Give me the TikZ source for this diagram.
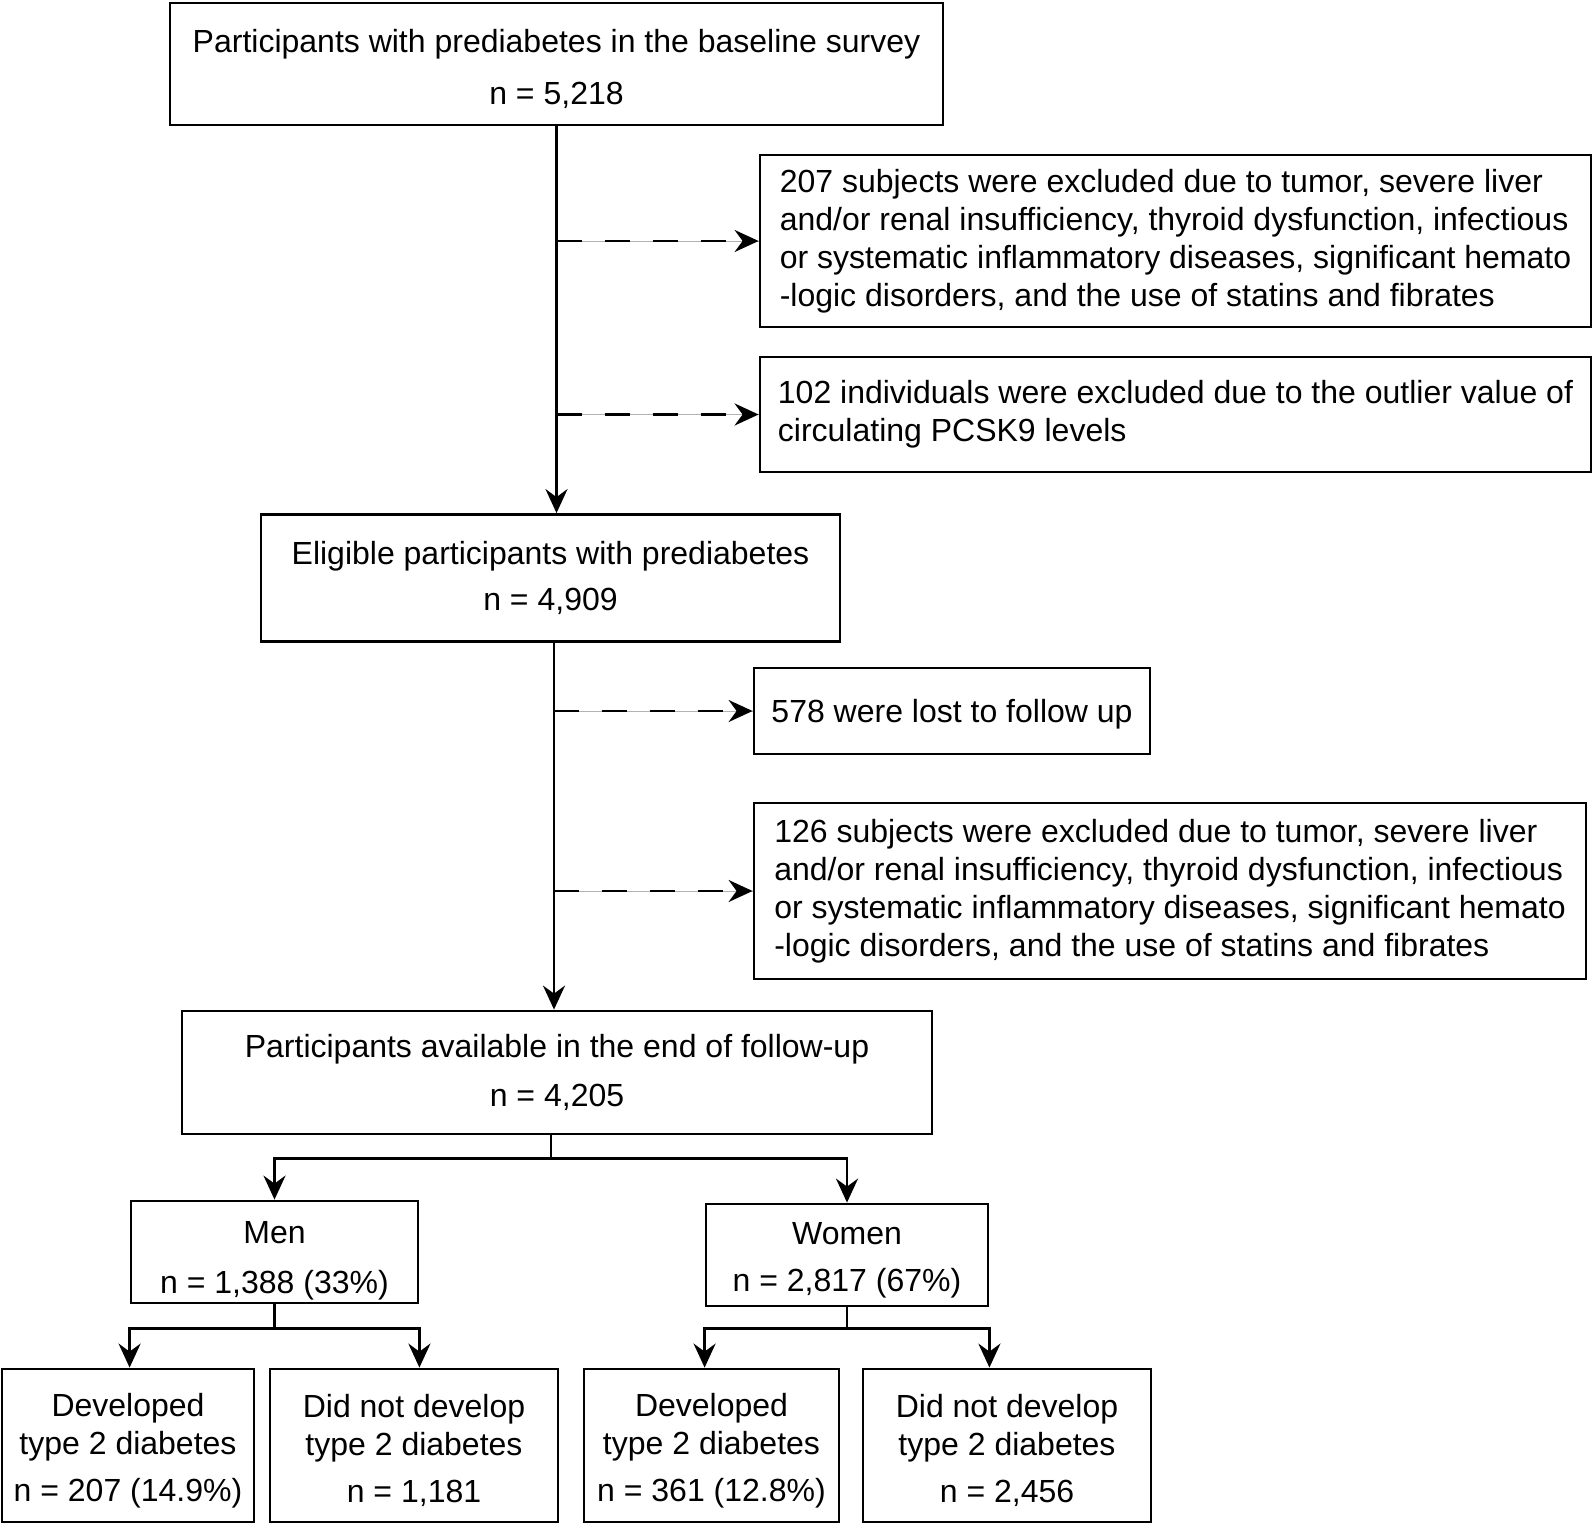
\documentclass[tikz,border=0pt]{standalone}
\usepackage{fontspec}
\setmainfont{Liberation Sans}
\usetikzlibrary{arrows.meta}
\newcommand{\alto}[1]{\rule{0pt}{#1}}

\begin{document}
\begin{tikzpicture}[x=0.5pt, y=-0.5pt,
    caja/.style={draw, line width=1.4pt, align=center, inner sep=0pt, font=\fontsize{16}{19}\selectfont},
    cajaizq/.style={caja, align=left},
    flecha/.style={line width=1.4pt, -{Stealth[length=12pt, width=11pt, inset=4pt]}},
    guion/.style={flecha, dash pattern=on 12.5pt off 11.5pt, preaction={draw, -, solid, line width=0.4pt, gray!60}}]
    \useasboundingbox (0,0) rectangle (1594,1524);

    % Dibuja las cajas del flujo principal
    \node[caja, minimum width=386.5pt, minimum height=61pt] (inicio) at (556.5,64) {\alto{17pt}Participants with prediabetes in the baseline survey\\[7pt]n = 5,218};
    \node[caja, minimum width=289.5pt, minimum height=63.5pt] (elegibles) at (550.5,578) {Eligible participants with prediabetes\\[4pt]n = 4,909};
    \node[caja, minimum width=375pt, minimum height=61.5pt] (final) at (557,1072.5) {Participants available in the end of follow-up\\[5.5pt]n = 4,205};

    % Dibuja las cajas de exclusion
    \node[cajaizq, minimum width=415.5pt, minimum height=86pt] (excl1) at (1175.5,241) {207 subjects were excluded due to tumor, severe liver\\and/or renal insufficiency, thyroid dysfunction, infectious\\or systematic inflammatory diseases, significant hemato\\-logic disorders, and the use of statins and fibrates};
    \node[cajaizq, minimum width=415.5pt, minimum height=57.5pt] (excl2) at (1175.5,414.5) {102 individuals were excluded due to the outlier value of\\circulating PCSK9 levels};
    \node[caja, minimum width=198pt, minimum height=43pt] (perdidos) at (952,711) {\alto{14.5pt}578 were lost to follow up};
    \node[cajaizq, minimum width=416pt, minimum height=88pt] (excl3) at (1170,891) {126 subjects were excluded due to tumor, severe liver\\and/or renal insufficiency, thyroid dysfunction, infectious\\or systematic inflammatory diseases, significant hemato\\-logic disorders, and the use of statins and fibrates};

    % Dibuja las cajas por sexo
    \node[caja, minimum width=143.5pt, minimum height=51pt] (hombres) at (274.5,1252) {\alto{19.5pt}Men\\[6pt]n = 1,388 (33\%)};
    \node[caja, minimum width=141pt, minimum height=51pt] (mujeres) at (847,1255) {\alto{16.5pt}Women\\[4.5pt]n = 2,817 (67\%)};

    % Dibuja las cajas de resultados
    \node[caja, minimum width=126pt, minimum height=76.5pt] (hsi) at (128,1445.5) {\alto{16.5pt}Developed\\type 2 diabetes\\[4.5pt]n = 207 (14.9\%)};
    \node[caja, minimum width=144pt, minimum height=76.5pt] (hno) at (414,1445.5) {\alto{16.5pt}Did not develop\\type 2 diabetes\\[4.5pt]n = 1,181};
    \node[caja, minimum width=127.5pt, minimum height=76.5pt] (msi) at (711.5,1445.5) {\alto{16.5pt}Developed\\type 2 diabetes\\[4.5pt]n = 361 (12.8\%)};
    \node[caja, minimum width=144pt, minimum height=76.5pt] (mno) at (1007,1445.5) {\alto{16.5pt}Did not develop\\type 2 diabetes\\[4.5pt]n = 2,456};

    % Dibuja las flechas principales
    \draw[flecha] (inicio.south) -- (inicio.south |- elegibles.north);
    \draw[guion] (inicio.south |- excl1.west) -- (excl1.west);
    \draw[guion] (inicio.south |- excl2.west) -- (excl2.west);
    \draw[flecha] ([xshift=1.75pt]elegibles.south) -- ([xshift=1.75pt]elegibles.south |- final.north);
    \draw[guion] ([xshift=1.75pt]elegibles.south |- perdidos.west) -- (perdidos.west);
    \draw[guion] ([xshift=1.75pt]elegibles.south |- excl3.west) -- (excl3.west);

    % Dibuja las ramas
    \draw[flecha] ([xshift=-3pt]final.south) -- ++(0,23) -| (hombres.north);
    \draw[flecha] ([xshift=-3pt]final.south) -- ++(0,23) -| (mujeres.north);
    \draw[flecha] (hombres.south) -- ++(0,24) -| (hombres.west |- hsi.north);
    \draw[flecha] (hombres.south) -- ++(0,24) -| (hombres.east |- hno.north);
    \draw[flecha] (mujeres.south) -- ++(0,21) -| (mujeres.west |- msi.north);
    \draw[flecha] (mujeres.south) -- ++(0,21) -| (mujeres.east |- mno.north);
\end{tikzpicture}
\end{document}
